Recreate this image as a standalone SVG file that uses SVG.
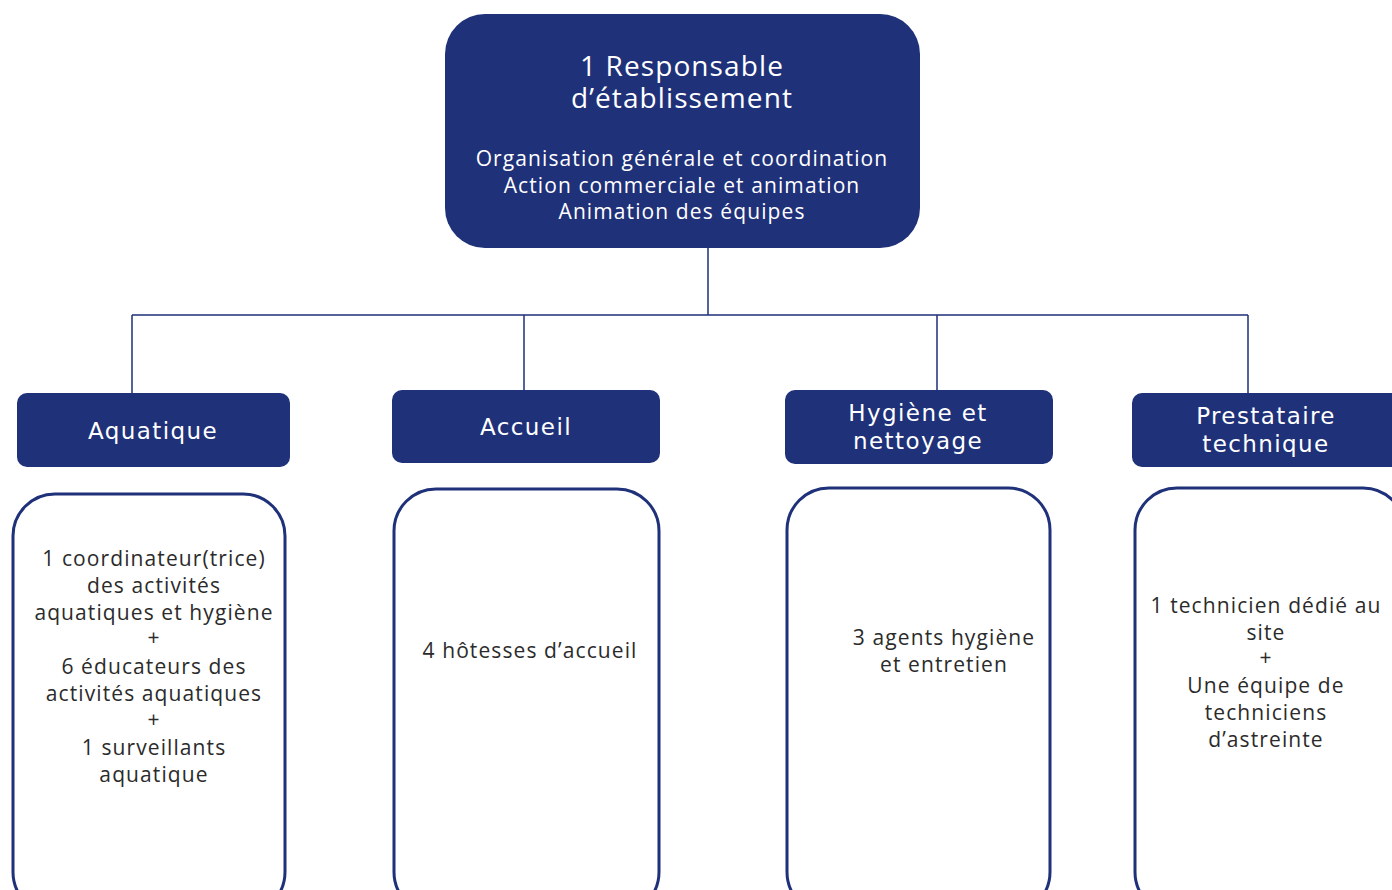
<svg xmlns="http://www.w3.org/2000/svg" width="1392" height="890" viewBox="0 0 1392 890">
<style>
.fill{fill:#1f3179;}
.card{fill:#ffffff;stroke:#1f3179;stroke-width:3;}
.conn{fill:none;stroke:#1f3179;stroke-width:1.5;}
.t1{font-family:"Open Sans","DejaVu Sans",sans-serif;font-size:28px;letter-spacing:1.1px;fill:#ffffff;text-anchor:middle;}
.t2{font-family:"Open Sans","DejaVu Sans",sans-serif;font-size:21px;letter-spacing:1.1px;fill:#ffffff;text-anchor:middle;}
.h{font-family:"DejaVu Sans",Verdana,sans-serif;font-size:23px;letter-spacing:1.4px;fill:#ffffff;text-anchor:middle;}
.b{font-family:"Open Sans","DejaVu Sans",sans-serif;font-size:21px;letter-spacing:1.1px;fill:#2b2b2b;text-anchor:middle;}
</style>
<rect width="1392" height="890" fill="#ffffff"/>
<g id="connectors">
<path class="conn" d="M708 248V315M132 315H1248M132 315V393M524 315V390M937 315V390M1248 315V393"/>
</g>
<g id="responsable">
<rect class="fill" x="445" y="14" width="475" height="234" rx="40"/>
<text class="t1" x="682" y="76">1 Responsable</text>
<text class="t1" x="682" y="108">d’établissement</text>
<text class="t2" x="682" y="166">Organisation générale et coordination</text>
<text class="t2" x="682" y="193">Action commerciale et animation</text>
<text class="t2" x="682" y="219">Animation des équipes</text>
</g>
<g id="aquatique">
<rect class="fill" x="17" y="393" width="273" height="74" rx="10"/>
<text class="h" x="153" y="439">Aquatique</text>
</g>
<g id="accueil">
<rect class="fill" x="392" y="390" width="268" height="73" rx="10"/>
<text class="h" x="526" y="435">Accueil</text>
</g>
<g id="hygiene">
<rect class="fill" x="785" y="390" width="268" height="74" rx="10"/>
<text class="h" x="918" y="421">Hygiène et</text>
<text class="h" x="918" y="449">nettoyage</text>
</g>
<g id="prestataire">
<rect class="fill" x="1132" y="393" width="275" height="74" rx="10"/>
<text class="h" x="1266" y="424">Prestataire</text>
<text class="h" x="1266" y="452">technique</text>
</g>
<g id="aquatique-detail">
<rect class="card" x="13" y="494" width="272" height="420" rx="42"/>
<text class="b" x="154" y="566">1 coordinateur(trice)</text>
<text class="b" x="154" y="593">des activités</text>
<text class="b" x="154" y="620">aquatiques et hygiène</text>
<text class="b" x="154" y="645">+</text>
<text class="b" x="154" y="674">6 éducateurs des</text>
<text class="b" x="154" y="701">activités aquatiques</text>
<text class="b" x="154" y="727">+</text>
<text class="b" x="154" y="755">1 surveillants</text>
<text class="b" x="154" y="782">aquatique</text>
</g>
<g id="accueil-detail">
<rect class="card" x="394" y="489" width="265" height="425" rx="42"/>
<text class="b" x="530" y="658">4 hôtesses d’accueil</text>
</g>
<g id="hygiene-detail">
<rect class="card" x="787" y="488" width="263" height="426" rx="42"/>
<text class="b" x="944" y="645">3 agents hygiène</text>
<text class="b" x="944" y="672">et entretien</text>
</g>
<g id="prestataire-detail">
<rect class="card" x="1135" y="488" width="270" height="426" rx="42"/>
<text class="b" x="1266" y="613">1 technicien dédié au</text>
<text class="b" x="1266" y="640">site</text>
<text class="b" x="1266" y="665">+</text>
<text class="b" x="1266" y="693">Une équipe de</text>
<text class="b" x="1266" y="720">techniciens</text>
<text class="b" x="1266" y="747">d’astreinte</text>
</g>
</svg>
